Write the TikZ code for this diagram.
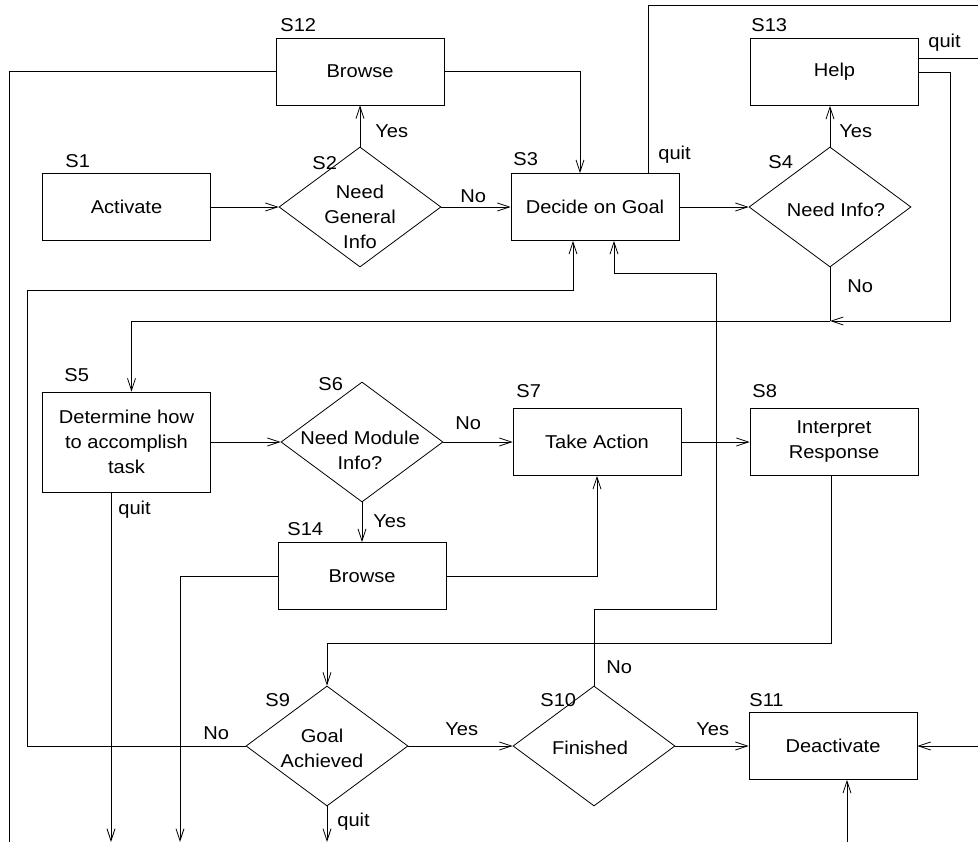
\documentclass[tikz,border=0pt]{standalone}
\usepackage{fontspec}
\setmainfont{Liberation Sans}[FakeStretch=1.08]
\usetikzlibrary{shapes.geometric,arrows.meta}

\tikzset{
	stepbox/.style = {draw, minimum width = 168pt, minimum height = 67pt, inner sep = 3pt, align = center},
	choice/.style = {draw, diamond, minimum width = 162pt, minimum height = 120pt, inner sep = 0pt},
	tag/.style = {anchor = base west, inner sep = 0pt}
}

\begin{document}
\begin{tikzpicture}[x = 1pt, y = -1pt, line width = 0.8pt, >={Straight Barb[length = 12pt, width = 8pt]}, font = \fontsize{18.6}{25}\selectfont]
	\useasboundingbox (0, 0) rectangle (978, 842);
	% states
	\node [stepbox] (s12) at (360, 71.5) {Browse};
	\node [stepbox] (s1) at (126.5, 207) {Activate};
	\node [choice] (s2) at (360, 207) {};
	\node [stepbox] (s3) at (595, 207) {Decide on Goal};
	\node [choice] (s4) at (830, 207) {};
	\node [stepbox] (s13) at (834.5, 72) {Help};
	\node [stepbox, minimum height = 100pt] (s5) at (126.5, 442) {Determine how\\to accomplish\\task};
	\node [choice] (s6) at (362, 442) {};
	\node [stepbox] (s7) at (597, 442) {Take Action};
	\node [stepbox] (s8) at (834, 442) {Interpret\\Response};
	\node [stepbox] (s14) at (362, 576) {Browse};
	\node [choice] (s9) at (327, 746) {};
	\node [choice] (s10) at (594, 746) {};
	\node [stepbox] (s11) at (833, 746) {Deactivate};
	% text in the diamonds
	\node [align = center] (s2t) at (360, 217) {Need\\General\\Info};
	\node (s4t) at (836, 210) {Need Info?};
	\node [align = center] (s6t) at (360, 450) {Need Module\\Info?};
	\node [align = center] (s9t) at (322, 748) {Goal\\Achieved};
	\node (s10t) at (590, 748) {Finished};
	% state numbers
	\foreach \x/\y/\t in {280/32/S12, 65/168/S1, 312/170/S2, 513/166/S3, 751/32/S13, 768/169/S4, 64/382/S5, 318/391/S6, 516/398/S7, 752/398/S8, 287/535/S14, 265/706/S9, 540/706/S10, 749/706/S11}
	{
		\node [tag] (l\t) at (\x, \y) {\t};
	}
	% answers
	\foreach \x/\y/\t [count = \i] in {375/138/Yes, 460/203/No, 658/160/quit, 839/138/Yes, 847/293/No, 928/48/quit, 455/430/No, 373/527/Yes, 118/514/quit, 203/739/No, 445/735/Yes, 696/735/Yes, 606/673/No, 337/826/quit}
	{
		\node [tag] (a\i) at (\x, \y) {\t};
	}
	% free ends and bends
	\coordinate (offL) at (9, 842);
	\coordinate (offT) at (978, 5);
	\coordinate (offQ) at (978, 58);
	\coordinate (offS5) at (111, 842);
	\coordinate (offS14) at (180, 842);
	\coordinate (offS9) at (327, 842);
	\coordinate (offR) at (978, 746);
	\coordinate (offB) at (847, 842);
	\coordinate (j1) at (830, 321);
	\coordinate (j2) at (327, 643);
	% connectors
	\draw [->] (s1) -- (s2);
	\draw [->] (s2) -- (s3);
	\draw [->] (s2) -- (s12);
	\draw [->] (s12.east) -| ([xshift = -15pt]s3.north);
	\draw (s12.west) -| (offL);
	\draw [->] (s3) -- (s4);
	\draw ([xshift = 53pt]s3.north) |- (offT);
	\draw [->] (s4.north) -- (s4.north |- s13.south);
	\draw ([yshift = 14pt]s13.east) -- (offQ);
	\draw (s4.south) -- (j1);
	\draw [->] (s13.east) -| (950, 321) -- (j1);
	\draw [->] (j1) -| ([xshift = 5pt]s5.north);
	\draw [->] (s5) -- (s6);
	\draw [->] (s6) -- (s7);
	\draw [->] (s6) -- (s14);
	\draw [->] (s7) -- (s8);
	\draw [->] (s14.east) -| (s7.south);
	\draw [->] (s14.west) -| (offS14);
	\draw [->] ([xshift = -15.5pt]s5.south) -- (offS5);
	\draw [->] ([xshift = -3pt]s8.south) |- (j2) -- (s9);
	\draw [->] (s9) -- (s10);
	\draw [->] (s10) -- (s11);
	\draw [->] (s9.west) -| (27, 290) -| ([xshift = -22pt]s3.south);
	\draw [->] (s10.north) |- (716, 609) -- (716, 273) -| ([xshift = 19pt]s3.south);
	\draw [->] (s9) -- (offS9);
	\draw [->] (offR) -- (s11);
	\draw [->] (offB) -- (offB |- s11.south);
\end{tikzpicture}
\end{document}
